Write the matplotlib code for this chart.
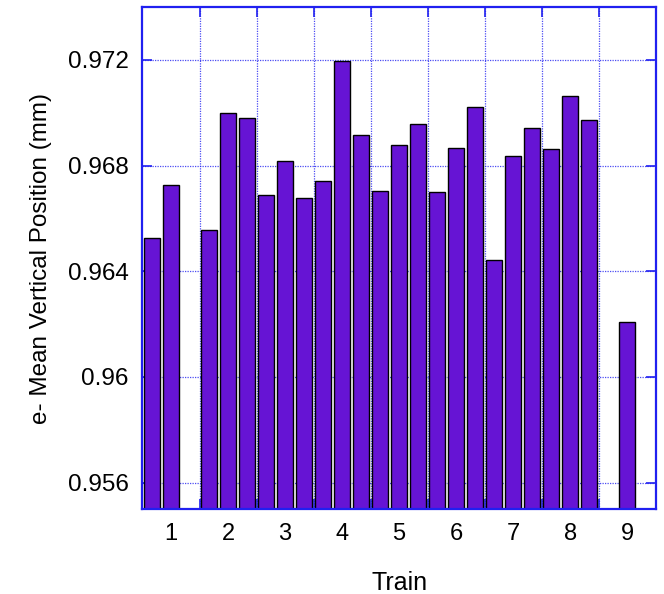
import numpy as np
import matplotlib
matplotlib.use("Agg")
import matplotlib.pyplot as plt
from matplotlib.ticker import FixedLocator, FuncFormatter, NullFormatter

trains = [1, 2, 3, 4, 5, 6, 7, 8, 9]
first_bunch = [0.96526, 0.96558, 0.96690, 0.96743, 0.96705, 0.96699, 0.96441, 0.96864, np.nan]
middle_bunch = [0.96726, 0.97000, 0.96816, 0.97196, 0.96879, 0.96868, 0.96838, 0.97065, 0.96209]
last_bunch = [np.nan, 0.96979, 0.96678, 0.96916, 0.96959, 0.97022, 0.96944, 0.96974, np.nan]
y_ticks = [0.956, 0.960, 0.964, 0.968, 0.972]

plt.rcParams['font.family'] = ['Liberation Sans', 'DejaVu Sans']

fig = plt.figure(figsize=(6.64, 5.94), dpi=100)
ax = fig.add_axes([0.2146, 0.143, 0.7729, 0.845])

x = np.array(trains, dtype=float)
off = 1.0 / 3.0
w = 0.28
color = '#6614D4'
for dx, vals in ((-off, first_bunch), (0.0, middle_bunch), (off, last_bunch)):
    ax.bar(x + dx, vals, width=w, color=color, edgecolor='black', linewidth=1.0, zorder=2)

ax.set_xlim(0.5, 9.5)
ax.set_ylim(0.955, 0.974)

blue = '#2020F0'
ax.xaxis.set_major_locator(FixedLocator([t + 0.5 for t in trains[:-1]]))
ax.xaxis.set_major_formatter(NullFormatter())
ax.xaxis.set_minor_locator(FixedLocator(trains))
ax.xaxis.set_minor_formatter(FuncFormatter(lambda v, p: f"{int(v)}"))
ax.yaxis.set_major_locator(FixedLocator(y_ticks))
ax.yaxis.set_major_formatter(FuncFormatter(lambda v, p: f"{v:g}"))

ax.tick_params(axis='x', which='major', direction='in', length=7, width=1.2,
               color=blue, top=True, bottom=True)
ax.tick_params(axis='x', which='minor', length=0, labelsize=17, pad=10)
ax.tick_params(axis='y', which='major', direction='in', length=7, width=1.2,
               color=blue, left=True, right=True, labelsize=17.5, pad=10)

ax.set_axisbelow(True)
ax.grid(True, which='major', color=blue, linestyle=(0, (1, 1)), linewidth=0.9, alpha=0.8)

for s in ax.spines.values():
    s.set_color(blue)
    s.set_linewidth(1.6)
    s.set_zorder(3)

ax.set_xlabel('Train', fontsize=18, labelpad=19)
ax.set_ylabel('e- Mean Vertical Position (mm)', fontsize=17.5, labelpad=11)

fig.savefig('out.png', dpi=100)
